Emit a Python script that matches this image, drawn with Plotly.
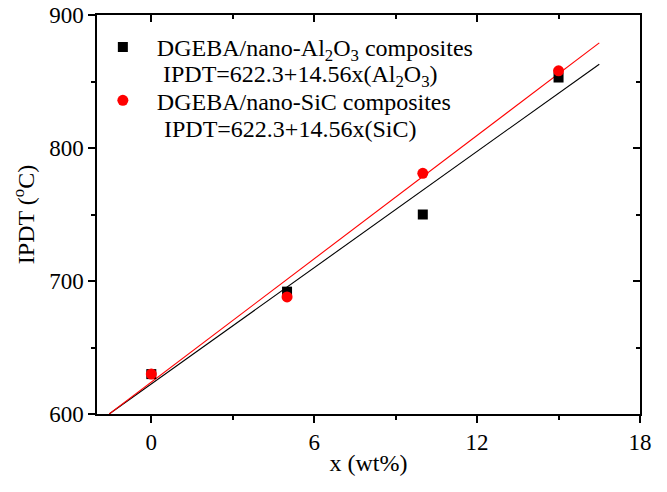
import plotly.graph_objects as go

x_vals = [0, 5, 10, 15]
al2o3_ipdt = [630, 692, 750, 853]
sic_ipdt = [630, 688, 781, 858]

fit_x = [-1.55, 16.5]
al2o3_fit = [600, 863]
sic_fit = [600, 879]

x_ticks = [0, 6, 12, 18]
y_ticks = [600, 700, 800, 900]

al2o3_name = "DGEBA/nano-Al<sub>2</sub>O<sub>3</sub> composites"
al2o3_eq = "IPDT=622.3+14.56x(Al<sub>2</sub>O<sub>3</sub>)"
sic_name = "DGEBA/nano-SiC composites"
sic_eq = "IPDT=622.3+14.56x(SiC)"

FONT = "Liberation Serif, Times New Roman, serif"

fig = go.Figure()
fig.add_trace(go.Scatter(x=fit_x, y=al2o3_fit, mode="lines",
                         line=dict(color="black", width=1.1), showlegend=False))
fig.add_trace(go.Scatter(x=fit_x, y=sic_fit, mode="lines",
                         line=dict(color="red", width=1.1), showlegend=False))
fig.add_trace(go.Scatter(x=x_vals, y=al2o3_ipdt, mode="markers", legendgroup="a",
                         marker=dict(symbol="square", size=10, color="black"),
                         name=al2o3_name))
fig.add_trace(go.Scatter(x=x_vals, y=sic_ipdt, mode="markers", legendgroup="b",
                         marker=dict(symbol="circle", size=11, color="red"),
                         name=sic_name))
# mirrored axes with inward ticks
fig.add_trace(go.Scatter(x=[None], y=[None], xaxis="x2", yaxis="y2", showlegend=False))

axis_common = dict(showline=True, linecolor="black", linewidth=1.5, showgrid=False,
                   zeroline=False, tickcolor="black", tickwidth=1.5, automargin=False)

fig.update_layout(
    width=667, height=492,
    margin=dict(l=97, r=27, t=15, b=78),
    paper_bgcolor="white", plot_bgcolor="white",
    font=dict(family=FONT, color="black", size=23),
    xaxis=dict(range=[-2, 18], tickvals=x_ticks, ticks="outside", ticklen=7,
               minor=dict(dtick=3, tick0=0, ticks="outside", ticklen=4, tickcolor="black", tickwidth=1.5),
               title=dict(text="x (wt%)", font=dict(size=24), standoff=0),
               tickfont=dict(size=23), **axis_common),
    yaxis=dict(range=[600, 900], tickvals=y_ticks, ticks="outside", ticklen=7,
               minor=dict(dtick=50, tick0=600, ticks="outside", ticklen=4, tickcolor="black", tickwidth=1.5),
               title=dict(text="IPDT (<sup>o</sup>C)", font=dict(size=24), standoff=8),
               tickfont=dict(size=23), **axis_common),
    xaxis2=dict(range=[-2, 18], overlaying="x", side="top", tickvals=x_ticks, ticks="inside",
                ticklen=7, showticklabels=False,
                minor=dict(dtick=3, tick0=0, ticks="inside", ticklen=4, tickcolor="black", tickwidth=1.5),
                **axis_common),
    yaxis2=dict(range=[600, 900], overlaying="y", side="right", anchor="x2", tickvals=y_ticks, ticks="inside",
                ticklen=7, showticklabels=False,
                minor=dict(dtick=50, tick0=600, ticks="inside", ticklen=4, tickcolor="black", tickwidth=1.5),
                **axis_common),
    legend=dict(x=-0.015, y=0.975, xanchor="left", yanchor="top", bgcolor="rgba(0,0,0,0)",
                font=dict(size=24, family=FONT), itemwidth=58,
                tracegroupgap=19),
    annotations=[
        dict(text=al2o3_eq, x=0.118, y=0.847, xref="paper", yref="paper",
             xanchor="left", yanchor="middle", showarrow=False, font=dict(size=24)),
        dict(text=sic_eq, x=0.12, y=0.715, xref="paper", yref="paper",
             xanchor="left", yanchor="middle", showarrow=False, font=dict(size=24)),
    ],
)

fig.write_html("out.html")
